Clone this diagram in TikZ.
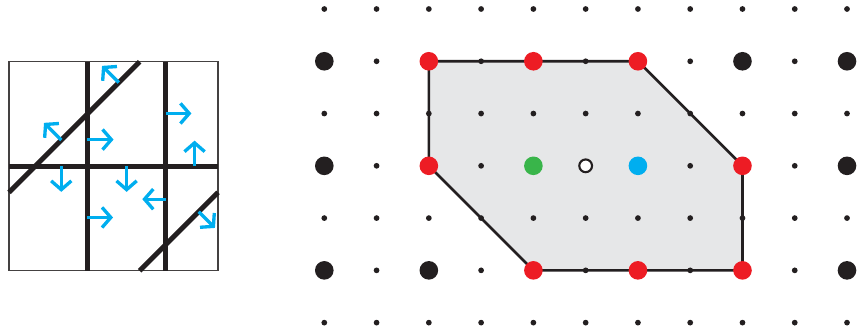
\documentclass[tikz,border=0pt]{standalone}
\usetikzlibrary{arrows.meta}
\definecolor{latticeblack}{HTML}{231F20}
\definecolor{vertexred}{HTML}{ED1C24}
\definecolor{centergreen}{HTML}{39B54A}
\definecolor{flipblue}{HTML}{00AEEF}
\definecolor{hullgray}{HTML}{E6E7E8}

\begin{document}
\begin{tikzpicture}[x=1.0454cm, y=-1.0454cm,
    wall/.style={line width=2.8pt, draw=latticeblack},
    flip/.style={line width=1.9pt, draw=flipblue, -{Straight Barb[length=5pt,width=11.5pt]}},
    smalldot/.style={fill=latticeblack},
    bigdot/.style={fill=latticeblack},
    vertexdot/.style={fill=vertexred}]
  \useasboundingbox (0,0) rectangle (16.3956,6.4090);

  % left panel: walls and flips
  \begin{scope}[shift={(0.1722,1.1804)}]
    \draw[line width=0.7pt, draw=latticeblack!85] (0,0) rectangle (4,4);
    \draw[wall] (1.5,0) -- (1.5,4) (3,0) -- (3,4) (0,2) -- (4,2);
    \draw[wall] (0,2.5) -- (2.5,0) (2.5,4) -- (4,2.5);
    \foreach \xa/\ya/\xb/\yb in {2.1/0.4/1.78/0.08, 1/1.5/0.67/1.17,
                                 1.5/1.49/2/1.49, 3/0.99/3.49/0.99,
                                 3.55/2/3.55/1.51, 1/2/1/2.49,
                                 2.25/2/2.25/2.49, 3/2.63/2.55/2.63,
                                 1.5/2.98/1.99/2.98, 3.63/2.87/3.94/3.18}
      \draw[flip] (\xa,\ya) -- (\xb,\yb);
  \end{scope}

  % right panel: lattice and hull
  \begin{scope}[shift={(6.2043,0.1722)}]
    \filldraw[fill=hullgray, draw=latticeblack, line width=1.5pt]
      (2,1) -- (6,1) -- (8,3) -- (8,5) -- (4,5) -- (2,3) -- cycle;
    \foreach \i in {0,...,10}
      \foreach \j in {0,...,6}
        \fill[smalldot] (\i,\j) circle (0.055);
    \foreach \p in {(0,1),(0,3),(0,5),(2,5),(8,1),(10,1),(10,3),(10,5)}
      \fill[bigdot] \p circle (0.178);
    \foreach \p in {(2,1),(4,1),(6,1),(2,3),(8,3),(4,5),(6,5),(8,5)}
      \fill[vertexdot] \p circle (0.178);
    \fill[centergreen] (4,3) circle (0.178);
    \fill[flipblue] (6,3) circle (0.178);
    \filldraw[fill=white, draw=latticeblack, line width=1.2pt] (5,3) circle (0.122);
  \end{scope}
\end{tikzpicture}
\end{document}
